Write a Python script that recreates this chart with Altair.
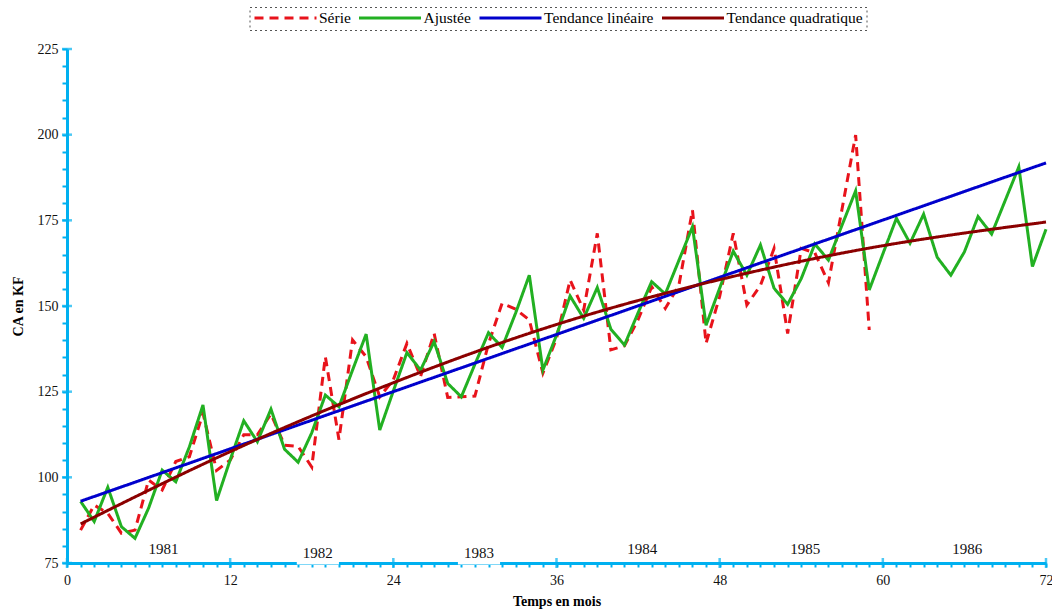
import altair as alt
import pandas as pd

# Chiffre d'affaires mensuel observé (mois 1 à 59)
mois_serie = list(range(1, 60))
serie = [84.6, 91.9, 89.5, 83.7, 84.6, 99.2, 96.3, 104.6, 106.0, 118.7,
         102.0, 105.0, 112.4, 112.4, 118.5, 109.4, 109.0, 103.0, 135.2, 111.0,
         140.1, 135.2, 123.5, 128.5, 139.1, 129.4, 142.0, 123.3, 123.5, 123.7,
         139.0, 150.8, 149.1, 145.9, 130.4, 140.5, 157.6, 148.8, 171.2, 137.2,
         138.4, 146.0, 155.6, 149.3, 156.0, 178.0, 139.1, 152.8, 171.2, 150.3,
         156.0, 166.8, 142.0, 166.8, 165.5, 156.8, 178.3, 199.9, 143.0]

# Série ajustée (modèle tendance x saisonnalité), prolongée jusqu'au mois 72
mois_ajustee = list(range(1, 73))
ajustee = [93.0, 87.1, 97.1, 85.6, 82.2, 91.0, 102.1, 98.7, 108.9, 121.1,
           93.2, 105.1, 116.5, 110.4, 119.9, 108.2, 104.4, 113.0, 124.0, 120.6,
           131.3, 141.8, 113.8, 125.2, 136.4, 131.3, 139.6, 127.4, 123.5, 133.0,
           142.2, 137.9, 148.0, 159.0, 131.3, 141.5, 152.9, 146.4, 155.4, 143.2,
           138.6, 148.0, 157.1, 153.5, 163.3, 173.1, 144.4, 155.2, 166.0, 159.0,
           167.8, 155.2, 150.5, 158.0, 168.1, 163.4, 173.6, 183.6, 154.7, 165.2,
           175.6, 168.3, 176.8, 164.2, 159.0, 165.8, 176.1, 171.0, 180.8, 190.6,
           161.5, 172.4]

# Tendance quadratique relevée aux mois de référence
mois_quad = [1, 12, 24, 36, 48, 60, 72]
tendance_quadratique = [86.4, 107.5, 127.6, 144.6, 157.7, 167.6, 174.5]

# Repères des années sous la courbe
annees = ["1981", "1982", "1983", "1984", "1985", "1986"]
pos_annees = [7.1, 18.45, 30.3, 42.3, 54.3, 66.2]
haut_annees = [79.2, 77.8, 77.8, 79.2, 79.2, 79.2]
masque_annees = [False, True, True, False, False, False]

# Graduations
graduations_x = list(range(0, 73, 12))
graduations_y = list(range(75, 226, 25))

noms = ["Série", "Ajustée", "Tendance linéaire", "Tendance quadratique"]
couleurs = ["#e8131b", "#22b022", "#0000cc", "#8b0000"]
tirets = [[9, 6], [1, 0], [1, 0], [1, 0]]

W, H = 979, 514
CYAN = "#00b0f0"
SERIF = "Liberation Serif"

df_serie = pd.DataFrame({"mois": mois_serie, "valeur": serie, "serie": "Série"})
df_ajustee = pd.DataFrame({"mois": mois_ajustee, "valeur": ajustee, "serie": "Ajustée"})
df_quad = pd.DataFrame({"mois": mois_quad, "valeur": tendance_quadratique,
                        "serie": "Tendance quadratique"})
df_annees = pd.DataFrame({"mois": pos_annees, "valeur": haut_annees,
                          "annee": annees, "masque": masque_annees})
df_gx = pd.DataFrame({"mois": graduations_x})
df_gy = pd.DataFrame({"valeur": graduations_y})

x_scale = alt.Scale(domain=[0, 72], nice=False, zero=False)
y_scale = alt.Scale(domain=[75, 225], nice=False, zero=False)

x_axis = alt.Axis(values=list(range(0, 73)),
                  labelExpr="datum.value % 12 === 0 ? datum.label : ''",
                  tickSize=4, tickWidth=2, tickColor=CYAN,
                  domainColor=CYAN, domainWidth=3, grid=False,
                  labelFont=SERIF, labelFontSize=14, labelColor="#111",
                  labelPadding=6, labelFlush=False, labelOverlap=False,
                  titleFont=SERIF, titleFontSize=14, titleFontWeight="bold",
                  titleColor="#000", titlePadding=7)
y_axis = alt.Axis(values=list(range(75, 226, 5)),
                  labelExpr="datum.value % 25 === 0 ? datum.label : ''",
                  tickSize=5, tickWidth=2, tickColor=CYAN,
                  domainColor=CYAN, domainWidth=3, grid=False,
                  labelFont=SERIF, labelFontSize=14, labelColor="#111",
                  labelPadding=4, labelFlush=False, labelOverlap=False,
                  titleFont=SERIF, titleFontSize=14, titleFontWeight="bold",
                  titleColor="#000", titlePadding=12)


def X(field):
    return alt.X(field, type="quantitative", scale=x_scale, axis=x_axis, title="Temps en mois")


def Y(field):
    return alt.Y(field, type="quantitative", scale=y_scale, axis=y_axis, title="CA en KF")


legende = alt.Legend(orient="none", legendX=182.5, legendY=-42, direction="horizontal",
                     title=None, symbolType="stroke", symbolSize=3844,
                     symbolStrokeWidth=3, clipHeight=15, labelOffset=1,
                     columnPadding=6.5, padding=3.5, strokeColor="#555",
                     labelFont=SERIF, labelFontSize=15.5, labelColor="#000")

couleur = alt.Color("serie:N", scale=alt.Scale(domain=noms, range=couleurs), legend=legende)
tiret = alt.StrokeDash("serie:N", scale=alt.Scale(domain=noms, range=tirets), legend=legende)

ligne_serie = alt.Chart(df_serie).mark_line(strokeWidth=3).encode(
    x=X("mois"), y=Y("valeur"), color=couleur, strokeDash=tiret)

ligne_ajustee = alt.Chart(df_ajustee).mark_line(strokeWidth=3).encode(
    x=X("mois"), y=Y("valeur"), color=couleur, strokeDash=tiret)

# Droite des moindres carrés ajustée sur la série observée, prolongée à 72 mois
tendance_lin = alt.Chart(df_serie).transform_regression(
    "mois", "valeur", method="linear", extent=[1, 72]
).transform_calculate(serie="'Tendance linéaire'").mark_line(strokeWidth=3).encode(
    x=X("mois"), y=Y("valeur"), color=couleur, strokeDash=tiret)

tendance_quad = alt.Chart(df_quad).mark_line(strokeWidth=3, interpolate="natural").encode(
    x=X("mois"), y=Y("valeur"), color=couleur, strokeDash=tiret)

# Fond blanc derrière certaines étiquettes d'année (coupe l'axe)
fond_annees = alt.Chart(df_annees).transform_filter("datum.masque").transform_calculate(
    g="datum.mois - 1.55", d="datum.mois + 1.55"
).mark_rect(color="white").encode(
    x=X("g"), x2="d:Q", y=alt.value(H - 17), y2=alt.value(H + 1.6))

texte_annees = alt.Chart(df_annees).mark_text(
    font=SERIF, fontSize=15, align="center", baseline="middle", color="#111"
).encode(x=X("mois"), y=Y("valeur"), text="annee:N")

# Grandes graduations traversant les axes
grad_x = alt.Chart(df_gx).mark_tick(orient="vertical", size=10, thickness=2.5, color=CYAN).encode(
    x=X("mois"), y=alt.value(H))
grad_y = alt.Chart(df_gy).mark_tick(orient="horizontal", size=10, thickness=2.5, color=CYAN).encode(
    y=Y("valeur"), x=alt.value(0))

chart = alt.layer(
    ligne_serie, ligne_ajustee, tendance_lin, tendance_quad,
    fond_annees, texte_annees, grad_x, grad_y
).properties(
    width=W, height=H,
    autosize=alt.AutoSizeParams(type="none"),
    padding={"left": 67, "top": 49, "right": 6, "bottom": 51},
    background="white",
).configure_view(stroke=None).configure_legend(
    strokeDash=[2, 3], strokeWidth=1, labelFont=SERIF, labelFontSize=15.5, labelColor="#000")

chart.save("out.html", embed_options={"renderer": "svg", "actions": False})
